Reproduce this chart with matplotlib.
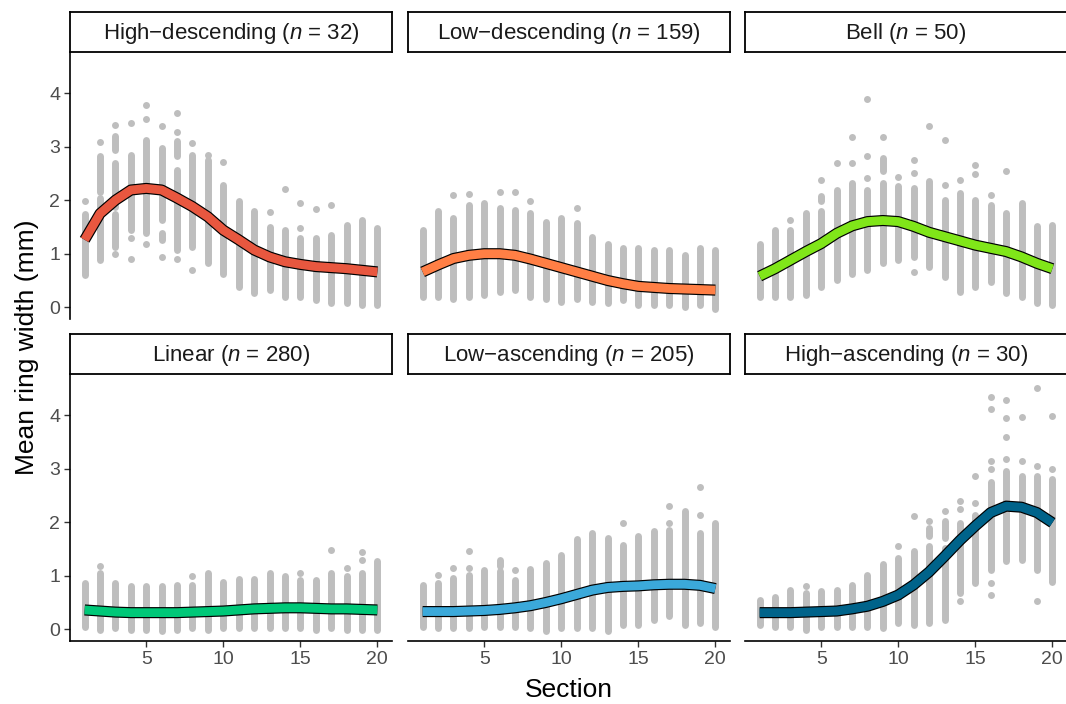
import matplotlib.pyplot as plt

plt.rcParams["font.family"] = ["Liberation Sans", "DejaVu Sans"]
plt.rcParams["mathtext.fontset"] = "custom"
plt.rcParams["mathtext.rm"] = "Liberation Sans"
plt.rcParams["mathtext.it"] = "Liberation Sans:italic"

sections = list(range(1, 21))

groups = ["High\u2212descending", "Low\u2212descending", "Bell",
          "Linear", "Low\u2212ascending", "High\u2212ascending"]
group_n = [32, 159, 50, 280, 205, 30]
group_colors = ["#E8573F", "#FF7F45", "#80E619", "#00C878", "#3BA9DA", "#00638A"]

# fitted mean ring width per section (mm)
fit_high_desc = [1.26, 1.75, 2.0, 2.19, 2.22, 2.19, 2.04, 1.88, 1.69, 1.44,
                 1.26, 1.07, 0.94, 0.85, 0.8, 0.76, 0.74, 0.72, 0.69, 0.66]
fit_low_desc = [0.66, 0.79, 0.91, 0.97, 1.0, 1.0, 0.97, 0.9, 0.82, 0.74,
                0.66, 0.58, 0.5, 0.44, 0.39, 0.37, 0.35, 0.34, 0.33, 0.32]
fit_bell = [0.58, 0.72, 0.88, 1.04, 1.19, 1.38, 1.52, 1.6, 1.62, 1.6,
            1.51, 1.4, 1.32, 1.24, 1.16, 1.1, 1.04, 0.94, 0.82, 0.72]
fit_linear = [0.36, 0.34, 0.32, 0.31, 0.31, 0.31, 0.31, 0.32, 0.33, 0.34,
              0.36, 0.38, 0.39, 0.4, 0.4, 0.39, 0.38, 0.38, 0.37, 0.36]
fit_low_asc = [0.33, 0.33, 0.33, 0.34, 0.35, 0.37, 0.4, 0.44, 0.5, 0.57,
               0.65, 0.73, 0.78, 0.8, 0.81, 0.83, 0.84, 0.84, 0.82, 0.76]
fit_high_asc = [0.31, 0.31, 0.31, 0.32, 0.33, 0.34, 0.38, 0.43, 0.52, 0.64,
                0.83, 1.07, 1.36, 1.66, 1.93, 2.18, 2.3, 2.28, 2.18, 1.99]
fits = [fit_high_desc, fit_low_desc, fit_bell, fit_linear, fit_low_asc, fit_high_asc]

# observed values: dense runs (low, high) and isolated points per section
runs_high_desc = [[(0.6, 1.75)], [(0.88, 2.05), (2.15, 2.82)], [(1.13, 1.75), (1.88, 2.69), (2.94, 3.19)],
                  [(1.44, 2.85)], [(1.38, 3.13)], [(1.26, 1.38), (1.63, 2.98)], [(1.07, 2.57), (2.82, 3.1)],
                  [(1.13, 2.85)], [(0.82, 2.75)], [(0.63, 2.29)], [(0.38, 1.98)], [(0.26, 1.79)],
                  [(0.32, 1.5)], [(0.19, 1.44)], [(0.19, 1.29)], [(0.13, 1.29)], [(0.07, 1.35)],
                  [(0.07, 1.54)], [(0.04, 1.63)], [(0.04, 1.48)]]
pts_high_desc = [[1.98], [3.08], [3.41, 1.0], [3.44, 1.29, 0.91], [3.78, 3.52, 1.19], [3.38, 0.94],
                 [3.63, 3.27, 0.91], [3.07, 0.69], [2.85], [2.71], [], [], [1.78], [2.21],
                 [1.94, 1.48], [1.83], [1.91], [], [], []]

runs_low_desc = [[(0.19, 1.44)], [(0.19, 1.79)], [(0.16, 1.66)], [(0.19, 1.91)], [(0.23, 1.94)],
                 [(0.29, 1.85)], [(0.32, 1.82)], [(0.19, 1.76)], [(0.16, 1.6)], [(0.1, 1.66)],
                 [(0.16, 1.57)], [(0.1, 1.32)], [(0.07, 1.19)], [(0.13, 1.1)], [(0.04, 1.1)],
                 [(0.04, 1.07)], [(0.04, 1.07)], [(0.01, 0.97)], [(0.04, 1.1)], [(-0.03, 1.07)]]
pts_low_desc = [[], [], [2.1], [2.11], [], [2.16], [2.16], [1.99], [], [], [1.85],
                [], [], [], [], [], [], [], [], []]

runs_bell = [[(0.19, 1.19)], [(0.19, 1.44)], [(0.19, 1.44)], [(0.23, 1.76)], [(0.38, 1.79), (1.98, 2.07)],
             [(0.51, 2.19)], [(0.63, 2.32)], [(0.69, 2.19)], [(0.82, 2.32), (2.54, 2.79)], [(0.88, 2.26)],
             [(0.94, 2.22)], [(0.76, 2.35)], [(0.57, 2.0)], [(0.29, 2.13)], [(0.38, 2.0)],
             [(0.48, 1.91)], [(0.26, 1.76)], [(0.19, 1.94)], [(0.07, 1.51)], [(0.04, 1.54)]]
pts_bell = [[], [], [1.63], [], [2.38], [2.69], [3.18, 2.69], [3.89, 2.82, 2.41], [3.18], [2.44],
            [2.76, 2.5, 0.66], [3.39], [3.13, 2.29], [2.38], [2.66, 2.48], [2.1], [2.54], [], [], []]

runs_linear = [[(0.05, 0.86)], [(-0.01, 1.05)], [(0.02, 0.86)], [(-0.01, 0.81)], [(-0.01, 0.8)],
               [(-0.04, 0.81)], [(-0.01, 0.83)], [(0.02, 0.83)], [(-0.01, 1.05)], [(0.02, 0.89)],
               [(0.02, 0.94)], [(0.02, 0.94)], [(0.02, 1.05)], [(0.02, 1.0)], [(0.02, 0.92)],
               [(-0.01, 0.92)], [(0.02, 1.05)], [(-0.01, 0.99)], [(-0.01, 1.05)], [(-0.01, 1.27)]]
pts_linear = [[], [1.18], [], [], [], [], [], [0.99], [], [], [], [], [], [], [1.05], [],
              [1.48], [1.14], [1.44, 1.3], []]

runs_low_asc = [[(0.05, 0.83)], [(0.02, 0.86)], [(0.02, 0.96)], [(0.02, 1.02)], [(0.05, 1.11)],
                [(0.05, 1.08), (1.18, 1.3)], [(0.05, 0.92)], [(0.02, 1.12)], [(-0.04, 1.24)],
                [(0.02, 1.39)], [(0.02, 1.68)], [(0.02, 1.8)], [(-0.04, 1.71)], [(0.08, 1.58)],
                [(0.08, 1.74)], [(0.18, 1.84)], [(0.24, 1.86)], [(0.08, 2.21)], [(0.11, 1.8)],
                [(0.05, 1.98)]]
pts_low_asc = [[], [1.02], [1.14], [1.46, 1.14], [], [], [1.11], [], [], [], [], [], [],
               [1.99], [], [], [2.3, 1.99], [], [2.66, 2.13], []]

runs_high_asc = [[(0.08, 0.55)], [(0.05, 0.61)], [(0.05, 0.74)], [(-0.01, 0.67)], [(0.05, 0.71)],
                 [(0.05, 0.74)], [(0.05, 0.83)], [(0.05, 1.02)], [(0.02, 1.21)], [(0.11, 1.33)],
                 [(0.08, 1.46)], [(0.11, 1.55), (1.75, 1.9)], [(0.18, 1.52), (1.7, 2.02)],
                 [(0.68, 1.99)], [(0.86, 2.14)], [(1.11, 2.76)], [(1.27, 2.96)], [(1.3, 2.86)],
                 [(1.11, 2.86)], [(0.89, 2.8)]]
pts_high_asc = [[], [], [], [0.8], [], [], [], [], [], [1.55], [2.11], [2.02], [2.21],
                [2.39, 2.24, 0.52], [2.86, 2.36], [4.33, 4.11, 3.14, 2.99, 0.86, 0.64],
                [4.29, 3.94, 3.6, 3.18], [3.96, 3.14], [4.5, 3.05, 0.52], [3.98, 2.99]]

runs = [runs_high_desc, runs_low_desc, runs_bell, runs_linear, runs_low_asc, runs_high_asc]
pts = [pts_high_desc, pts_low_desc, pts_bell, pts_linear, pts_low_asc, pts_high_asc]

W, H = 1066, 704
fig = plt.figure(figsize=(W / 100, H / 100), dpi=100)

col_left = [70, 408, 745]
col_w = 322
row_top = [53, 375]
row_h = 266
strip_top = [12, 334]
strip_h = 40
point_color = "#BEBEBE"
dot_pt = 5.0

for i, name in enumerate(groups):
    r, c = divmod(i, 3)
    x0 = col_left[c]
    ax = fig.add_axes([x0 / W, 1 - (row_top[r] + row_h) / H, col_w / W, row_h / H])
    ax.set_xlim(0.05, 20.95)
    ax.set_ylim(-0.22, 4.75)

    for s, sec_runs in zip(sections, runs[i]):
        for lo, hi in sec_runs:
            ax.plot([s, s], [lo, hi], color=point_color, lw=dot_pt,
                    solid_capstyle="round", zorder=1)
    xs, ys = [], []
    for s, sec_pts in zip(sections, pts[i]):
        xs += [s] * len(sec_pts)
        ys += sec_pts
    ax.scatter(xs, ys, s=dot_pt ** 2, color=point_color, lw=0, zorder=1)

    ax.plot(sections, fits[i], color="black", lw=8.0, solid_capstyle="butt",
            solid_joinstyle="round", zorder=3)
    ax.plot(sections, fits[i], color=group_colors[i], lw=6.3, solid_capstyle="butt",
            solid_joinstyle="round", zorder=4)

    for sp in ["top", "right"]:
        ax.spines[sp].set_visible(False)
    ax.spines["left"].set_visible(c == 0)
    ax.spines["bottom"].set_visible(r == 1)
    for sp in ["left", "bottom"]:
        ax.spines[sp].set_linewidth(1.2)
    ax.set_xticks([5, 10, 15, 20])
    ax.set_yticks([0, 1, 2, 3, 4])
    ax.tick_params(axis="both", length=4, width=1.0, color="#333333",
                   labelsize=14, labelcolor="#4D4D4D", pad=3)
    if c != 0:
        ax.tick_params(axis="y", left=False, labelleft=False)
    if r != 1:
        ax.tick_params(axis="x", bottom=False, labelbottom=False)
    ax.patch.set_alpha(0)

    sax = fig.add_axes([x0 / W, 1 - (strip_top[r] + strip_h) / H, col_w / W, strip_h / H])
    sax.set_xticks([])
    sax.set_yticks([])
    for sp in sax.spines.values():
        sp.set_linewidth(1.3)
    sax.text(0.5, 0.47, name + r" ($\mathit{n}$ = " + str(group_n[i]) + ")",
             ha="center", va="center", fontsize=16, color="#1A1A1A",
             transform=sax.transAxes)

fig.text((70 + 1067) / 2 / W, 1 - 690 / H, "Section", ha="center", va="center", fontsize=19)
fig.text(27 / W, 1 - 347 / H, "Mean ring width (mm)", ha="center", va="center",
         rotation=90, fontsize=19)

fig.savefig("out.png", dpi=100)
